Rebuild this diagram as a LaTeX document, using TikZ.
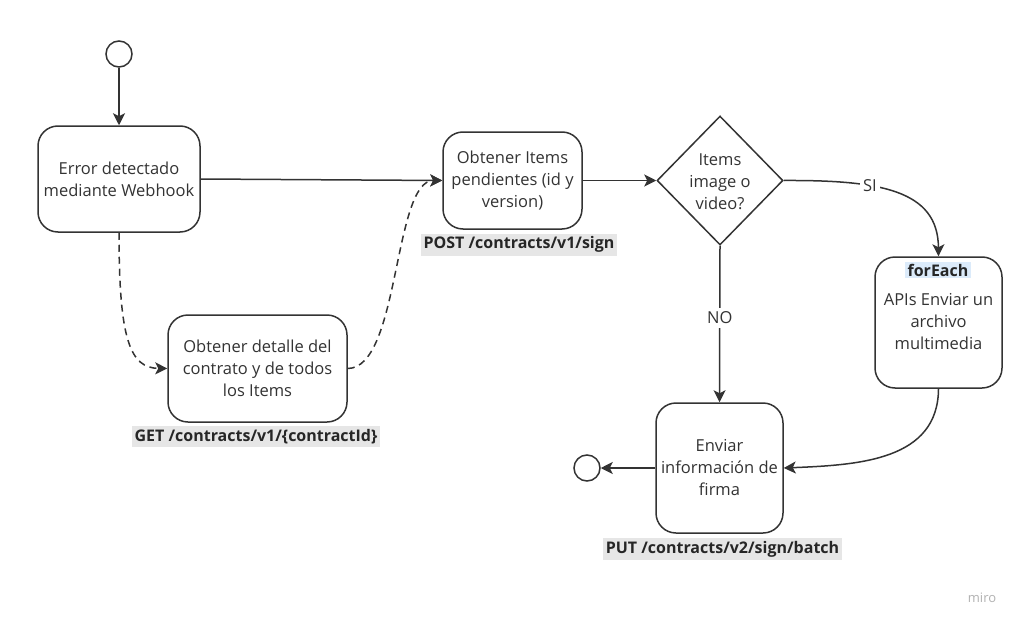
\documentclass[tikz,border=0pt]{standalone}
\usepackage{fontspec}
\setmainfont{Open Sans}
\usetikzlibrary{shapes.geometric,arrows.meta}
\definecolor{ln}{HTML}{333333}
\definecolor{lbl}{HTML}{E6E6E6}
\definecolor{hl}{HTML}{DCEBFA}
\begin{document}
\begin{tikzpicture}[x=1pt,y=-1pt,
  txt/.style={align=center,text=ln,font=\fontsize{16.5}{22}\selectfont,inner sep=0pt},
  box/.style={txt,draw=ln,line width=1.5pt,rounded corners=20pt,inner sep=0pt},
  api/.style={fill=lbl,text=black!85,font=\bfseries\fontsize{16}{18}\selectfont,inner xsep=3pt,inner ysep=3pt},
  circ/.style={circle,draw=ln,line width=1.5pt,minimum size=26pt,inner sep=0pt},
  arr/.style={draw=ln,line width=1.5pt,-{Stealth[length=12pt,width=12pt,inset=3pt]}},
  dsh/.style={dash pattern=on 7pt off 5pt}]
\useasboundingbox[fill=white] (0,0) rectangle (1022,626);

\node[circ] (s) at (119,54) {};
\node[box,minimum width=162pt,minimum height=106pt] (b1) at (119,179) {Error detectado\\mediante Webhook};
\node[box,minimum width=139pt,minimum height=97pt] (b2) at (512.5,180.5) {Obtener Items\\pendientes (id y\\version)};
\node[api] (l2) at (519,244.5) {POST /contracts/v1/sign};
\node[box,minimum width=179pt,minimum height=107pt] (b3) at (257.5,368.5) {Obtener detalle del\\contrato y de todos\\los Items};
\node[api] (l3) at (256,436.5) {GET /contracts/v1/\{contractId\}};
\node[diamond,draw=ln,line width=1.5pt,minimum width=126pt,minimum height=129pt,inner sep=0pt] (d) at (720,180.5) {};
\node[txt] (dt) at (720,182) {Items\\image o\\video?};
\node[box,minimum width=127pt,minimum height=131pt] (fe) at (938.5,322.5) {};
\node[api,fill=hl,inner ysep=1.5pt] (fet) at (938,270) {forEach};
\node[txt] (fex) at (938.5,322) {APIs Enviar un\\archivo\\multimedia};
\node[box,minimum width=127pt,minimum height=130pt] (e) at (719.5,468) {Enviar\\información de\\firma};
\node[api] (l4) at (722.5,549) {PUT /contracts/v2/sign/batch};
\node[circ] (end) at (587,468) {};
\node[text=black!30,font=\fontsize{13}{15}\selectfont] (miro) at (982,598) {miro};

\draw[arr] (s) -- (b1);
\draw[arr] (b1.east) -- (b2.west);
\draw[arr] (b2) -- (d);
\draw[arr] (d.east) .. controls (880,180) and (938,190) .. node[pos=0.35,fill=white,txt,inner xsep=3pt] {SI} (fe.north);
\draw[arr] (d.south) -- node[pos=0.46,fill=white,txt,inner sep=4pt] {NO} (e.north);
\draw[arr] (fe.south) .. controls (938,460) and (860,465) .. (e.east);
\draw[arr] (e.west) -- (end);
\draw[arr,dsh] (b1.south) .. controls (119,340) and (130,368) .. (b3.west);
\draw[arr,dsh] (b3.east) .. controls (400,368) and (393,180) .. (b2.west);
\end{tikzpicture}
\end{document}
